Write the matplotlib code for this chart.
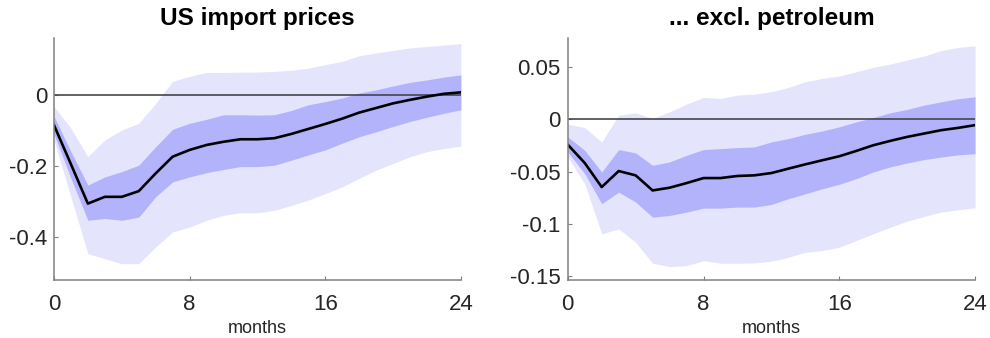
import matplotlib
matplotlib.use("Agg")
import matplotlib.pyplot as plt
import numpy as np

plt.rcParams['font.family'] = ['Liberation Sans', 'DejaVu Sans']

months = np.arange(25)

# US import prices: median response with 68% and 90% bands
imp_med = [-0.085, -0.195, -0.306, -0.287, -0.287, -0.271, -0.221, -0.174, -0.155,
           -0.141, -0.132, -0.125, -0.125, -0.122, -0.110, -0.096, -0.082, -0.067,
           -0.050, -0.037, -0.024, -0.014, -0.005, 0.003, 0.007]
imp_68_hi = [-0.060, -0.160, -0.254, -0.231, -0.216, -0.198, -0.146, -0.097, -0.080,
             -0.069, -0.056, -0.056, -0.057, -0.056, -0.044, -0.028, -0.019, -0.009,
             0.005, 0.014, 0.025, 0.035, 0.042, 0.050, 0.056]
imp_68_lo = [-0.110, -0.235, -0.353, -0.348, -0.353, -0.344, -0.287, -0.245, -0.231,
             -0.219, -0.210, -0.202, -0.202, -0.198, -0.184, -0.169, -0.155, -0.136,
             -0.118, -0.104, -0.089, -0.075, -0.063, -0.052, -0.042]
imp_90_hi = [-0.033, -0.094, -0.174, -0.127, -0.099, -0.080, -0.024, 0.038, 0.052,
             0.063, 0.063, 0.064, 0.064, 0.066, 0.069, 0.075, 0.085, 0.094,
             0.110, 0.118, 0.125, 0.132, 0.136, 0.140, 0.144]
imp_90_lo = [-0.127, -0.287, -0.447, -0.461, -0.475, -0.475, -0.428, -0.386, -0.372,
             -0.353, -0.339, -0.332, -0.332, -0.325, -0.311, -0.296, -0.278, -0.259,
             -0.235, -0.212, -0.193, -0.174, -0.160, -0.151, -0.144]

# import prices excluding petroleum
xp_med = [-0.0243, -0.0418, -0.0648, -0.0495, -0.0536, -0.0680, -0.0654, -0.0610, -0.0562,
          -0.0562, -0.0542, -0.0536, -0.0514, -0.0472, -0.0431, -0.0392, -0.0354, -0.0303,
          -0.0249, -0.0207, -0.0169, -0.0137, -0.0105, -0.0083, -0.0057]
xp_68_hi = [-0.0169, -0.0297, -0.0504, -0.0290, -0.0322, -0.0440, -0.0408, -0.0345, -0.0290,
            -0.0281, -0.0271, -0.0265, -0.0217, -0.0185, -0.0144, -0.0112, -0.0073, -0.0026,
            0.0016, 0.0061, 0.0093, 0.0134, 0.0166, 0.0195, 0.0214]
xp_68_lo = [-0.0313, -0.0520, -0.0807, -0.0696, -0.0791, -0.0935, -0.0919, -0.0887, -0.0849,
            -0.0849, -0.0839, -0.0839, -0.0814, -0.0759, -0.0712, -0.0664, -0.0622, -0.0568,
            -0.0504, -0.0456, -0.0418, -0.0386, -0.0361, -0.0341, -0.0329]
xp_90_hi = [-0.0048, -0.0080, -0.0217, 0.0038, 0.0061, 0.0006, 0.0070, 0.0144, 0.0207,
            0.0198, 0.0230, 0.0239, 0.0262, 0.0303, 0.0357, 0.0389, 0.0412, 0.0453,
            0.0495, 0.0526, 0.0565, 0.0603, 0.0654, 0.0686, 0.0699]
xp_90_lo = [-0.0360, -0.0616, -0.1094, -0.1047, -0.1174, -0.1375, -0.1407, -0.1398, -0.1350,
            -0.1375, -0.1375, -0.1372, -0.1356, -0.1318, -0.1270, -0.1254, -0.1222, -0.1158,
            -0.1094, -0.1031, -0.0973, -0.0929, -0.0887, -0.0865, -0.0846]

panels = [
    ("US import prices", imp_med, imp_68_lo, imp_68_hi, imp_90_lo, imp_90_hi,
     (-0.521, 0.16), [-0.4, -0.2, 0], ["-0.4", "-0.2", "0"]),
    ("... excl. petroleum", xp_med, xp_68_lo, xp_68_hi, xp_90_lo, xp_90_hi,
     (-0.1535, 0.0775), [-0.15, -0.1, -0.05, 0, 0.05], ["-0.15", "-0.1", "-0.05", "0", "0.05"]),
]

fig = plt.figure(figsize=(9.9, 3.38), dpi=100)
axes_pos = [[0.0545, 0.1716, 0.411, 0.716], [0.5735, 0.1716, 0.4114, 0.716]]

light = (0.894, 0.894, 0.988)
dark = (0.70, 0.70, 0.988)
axcol = '#808080'

for pos, (title, med, lo68, hi68, lo90, hi90, ylim, yt, ytl) in zip(axes_pos, panels):
    ax = fig.add_axes(pos)
    ax.fill_between(months, lo90, hi90, color=light, linewidth=0)
    ax.fill_between(months, lo68, hi68, color=dark, linewidth=0)
    ax.plot([0, 24], [0, 0], color='#454550', linewidth=1.2)
    ax.plot(months, med, color='black', linewidth=1.9)
    ax.set_xlim(0, 24)
    ax.set_ylim(*ylim)
    ax.set_xticks([0, 8, 16, 24])
    ax.set_yticks(yt)
    ax.set_yticklabels(ytl)
    for s in ['top', 'right']:
        ax.spines[s].set_visible(False)
    for s in ['left', 'bottom']:
        ax.spines[s].set_color(axcol)
        ax.spines[s].set_linewidth(1.1)
    ax.tick_params(axis='x', direction='in', length=3, width=0.8, color=axcol,
                   labelsize=16, labelcolor='#262626', pad=10)
    ax.tick_params(axis='y', direction='in', length=3, width=0.8, color=axcol,
                   labelsize=16, labelcolor='#262626', pad=5)
    ax.set_xlabel("months", fontsize=13, color='#262626', labelpad=3.5)
    ax.set_title(title, fontsize=17.5, fontweight='bold', pad=9)

fig.savefig("out.png", dpi=100)
